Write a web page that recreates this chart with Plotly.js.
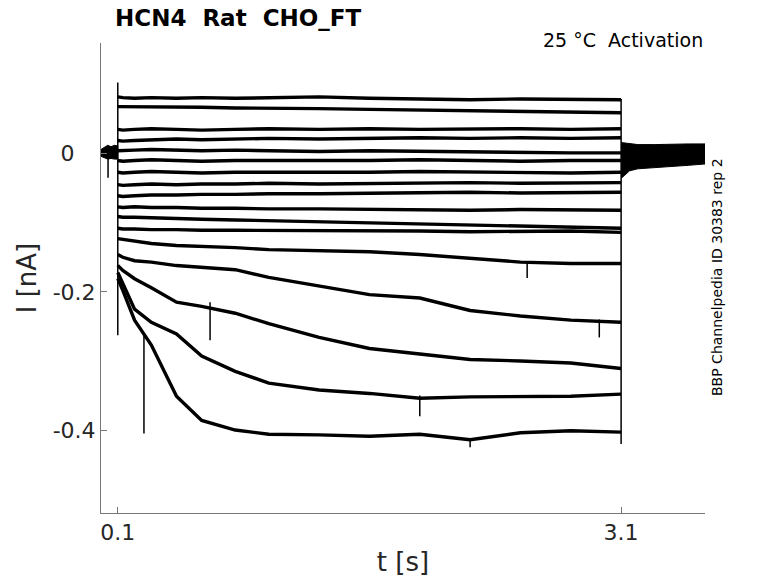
<!DOCTYPE html>
<html>
<head>
<meta charset="utf-8">
<script src="https://cdn.plot.ly/plotly-3.0.1.min.js"></script>
<style>
  html, body { margin: 0; padding: 0; background: #fff; }
  #graph { width: 778px; height: 583px; }
</style>
</head>
<body>
<div id="graph"></div>
<script>
// Values (t in s, I in nA).
// Sample times used for every sweep during the 0.1 - 3.1 s step.
const tStep = [0.1, 0.13, 0.2, 0.3, 0.45, 0.6, 0.8, 1.0, 1.3, 1.6, 1.9, 2.2, 2.5, 2.8, 3.1];

// The twelve almost flat sweeps, top to bottom.
const sweep01 = [0.082, 0.081, 0.080, 0.081, 0.080, 0.081, 0.080, 0.081, 0.082, 0.080, 0.079, 0.078, 0.079, 0.078, 0.078];
const sweep02 = [0.068, 0.068, 0.067, 0.068, 0.067, 0.067, 0.066, 0.066, 0.065, 0.064, 0.063, 0.062, 0.061, 0.060, 0.059];
const sweep03 = [0.035, 0.034, 0.035, 0.036, 0.035, 0.034, 0.035, 0.036, 0.035, 0.036, 0.035, 0.036, 0.036, 0.035, 0.036];
const sweep04 = [0.019, 0.018, 0.019, 0.020, 0.021, 0.020, 0.021, 0.022, 0.021, 0.022, 0.023, 0.022, 0.023, 0.022, 0.023];
const sweep05 = [0.004, 0.004, 0.005, 0.006, 0.005, 0.004, 0.005, 0.004, 0.003, 0.004, 0.003, 0.002, 0.002, 0.001, 0.001];
const sweep06 = [-0.010, -0.011, -0.010, -0.009, -0.010, -0.011, -0.010, -0.010, -0.011, -0.010, -0.009, -0.010, -0.011, -0.010, -0.010];
const sweep07 = [-0.027, -0.028, -0.027, -0.026, -0.027, -0.028, -0.027, -0.027, -0.028, -0.027, -0.026, -0.027, -0.027, -0.028, -0.027];
const sweep08 = [-0.045, -0.046, -0.045, -0.044, -0.045, -0.044, -0.044, -0.043, -0.044, -0.043, -0.043, -0.042, -0.043, -0.042, -0.042];
const sweep09 = [-0.061, -0.062, -0.061, -0.060, -0.060, -0.059, -0.059, -0.058, -0.058, -0.057, -0.057, -0.056, -0.057, -0.056, -0.056];
const sweep10 = [-0.077, -0.078, -0.077, -0.078, -0.078, -0.079, -0.079, -0.080, -0.080, -0.081, -0.081, -0.082, -0.081, -0.082, -0.082];
const sweep11 = [-0.091, -0.092, -0.092, -0.093, -0.094, -0.095, -0.096, -0.097, -0.099, -0.100, -0.102, -0.104, -0.105, -0.107, -0.108];
const sweep12 = [-0.108, -0.109, -0.109, -0.110, -0.110, -0.111, -0.111, -0.111, -0.112, -0.112, -0.112, -0.113, -0.113, -0.112, -0.114];

// The five sweeps that keep activating (largest inward current last).
const sweep13 = [-0.123, -0.124, -0.127, -0.130, -0.133, -0.134, -0.136, -0.139, -0.140, -0.142, -0.146, -0.152, -0.157, -0.159, -0.159];
const sweep14 = [-0.146, -0.150, -0.155, -0.157, -0.162, -0.165, -0.168, -0.179, -0.192, -0.204, -0.209, -0.227, -0.235, -0.241, -0.244];
const sweep15 = [-0.162, -0.169, -0.181, -0.194, -0.215, -0.221, -0.231, -0.246, -0.266, -0.282, -0.290, -0.298, -0.300, -0.303, -0.311];
const sweep16 = [-0.172, -0.188, -0.225, -0.244, -0.261, -0.293, -0.315, -0.332, -0.342, -0.347, -0.354, -0.352, -0.351, -0.351, -0.348];
const sweep17 = [-0.181, -0.198, -0.241, -0.277, -0.351, -0.386, -0.400, -0.406, -0.407, -0.409, -0.406, -0.414, -0.404, -0.401, -0.403];

const sweeps = [sweep01, sweep02, sweep03, sweep04, sweep05, sweep06, sweep07, sweep08, sweep09,
                sweep10, sweep11, sweep12, sweep13, sweep14, sweep15, sweep16, sweep17];

// Holding current before the step: noise band edges.
const preT  = [0, 0.02, 0.04, 0.06, 0.08, 0.1];
const preHi = [0.006, 0.009, 0.012, 0.010, 0.012, 0.011];
const preLo = [-0.004, -0.006, -0.008, -0.007, -0.008, -0.008];

// Tail after the step: noise band edges.
const tailT  = [3.1, 3.15, 3.2, 3.3, 3.4, 3.5, 3.6];
const tailHi = [0.016, 0.014, 0.013, 0.013, 0.014, 0.014, 0.014];
const tailLo = [-0.036, -0.025, -0.022, -0.020, -0.019, -0.017, -0.015];

// Single sharp deflections: time, start, end.
const spikeT    = [0.042, 0.1, 3.1, 0.256, 0.65, 1.9, 2.97, 2.54, 2.2];
const spikeFrom = [0.0, 0.103, 0.079, -0.26, -0.215, -0.35, -0.240, -0.157, -0.412];
const spikeTo   = [-0.035, -0.263, -0.42, -0.405, -0.270, -0.38, -0.266, -0.180, -0.425];

const ink = '#000000';
const font = 'DejaVu Sans';

function band(t, hi, lo) {
  return {
    x: t.concat(t.slice().reverse()),
    y: hi.concat(lo.slice().reverse()),
    mode: 'lines',
    fill: 'toself',
    fillcolor: ink,
    line: {color: ink, width: 1},
    hoverinfo: 'skip'
  };
}

let traces = [];
traces.push(band(preT, preHi, preLo));
traces.push(band(tailT, tailHi, tailLo));

sweeps.forEach(s => {
  traces.push({
    x: tStep,
    y: s,
    mode: 'lines',
    line: {color: ink, width: 3.4},
    hoverinfo: 'skip'
  });
});

// spikes as one trace broken by nulls
let sx = [], sy = [];
for (let i = 0; i < spikeT.length; i++) {
  sx.push(spikeT[i], spikeT[i], null);
  sy.push(spikeFrom[i], spikeTo[i], null);
}
traces.push({x: sx, y: sy, mode: 'lines', line: {color: ink, width: 1.5}, hoverinfo: 'skip'});

const axisCommon = {
  showgrid: false,
  zeroline: false,
  showline: true,
  linecolor: '#777777',
  linewidth: 1,
  ticks: 'inside',
  ticklen: 6,
  tickcolor: '#777777',
  tickfont: {family: font, size: 22, color: '#262626'},
  fixedrange: true
};

const layout = {
  width: 778,
  height: 583,
  margin: {l: 101, r: 73, t: 43, b: 70, pad: 0},
  paper_bgcolor: '#ffffff',
  plot_bgcolor: '#ffffff',
  showlegend: false,
  title: {
    text: '<b>HCN4\u00a0\u00a0Rat\u00a0\u00a0CHO_FT</b>',
    x: 115 / 778, xanchor: 'left',
    y: 1 - 18 / 583, yanchor: 'middle',
    font: {family: font, size: 23, color: '#000000'}
  },
  xaxis: Object.assign({}, axisCommon, {
    range: [0, 3.6],
    tickvals: [0.1, 3.1],
    ticktext: ['0.1', '3.1'],
    title: {text: 't [s]', font: {family: font, size: 26, color: '#262626'}, standoff: 8}
  }),
  yaxis: Object.assign({}, axisCommon, {
    range: [-0.52, 0.16],
    tickvals: [-0.4, -0.2, 0],
    ticktext: ['-0.4', '-0.2', '0\u00a0\u00a0\u00a0'],
    title: {text: 'I [nA]', font: {family: font, size: 26, color: '#262626'}, standoff: 8}
  }),
  annotations: [
    {
      text: '25 °C\u00a0\u00a0Activation',
      xref: 'paper', yref: 'paper',
      x: 1, y: (513 - 40) / 470,
      xanchor: 'right', yanchor: 'middle',
      showarrow: false,
      font: {family: font, size: 19, color: '#000000'}
    },
    {
      text: 'BBP Channelpedia ID 30383 rep 2',
      xref: 'paper', yref: 'paper',
      x: (717 - 101) / 604, y: (513 - 277) / 470,
      xanchor: 'center', yanchor: 'middle',
      textangle: -90,
      showarrow: false,
      font: {family: font, size: 14, color: '#000000'}
    }
  ]
};

Plotly.newPlot('graph', traces, layout, {displayModeBar: false, staticPlot: true});
</script>
</body>
</html>
